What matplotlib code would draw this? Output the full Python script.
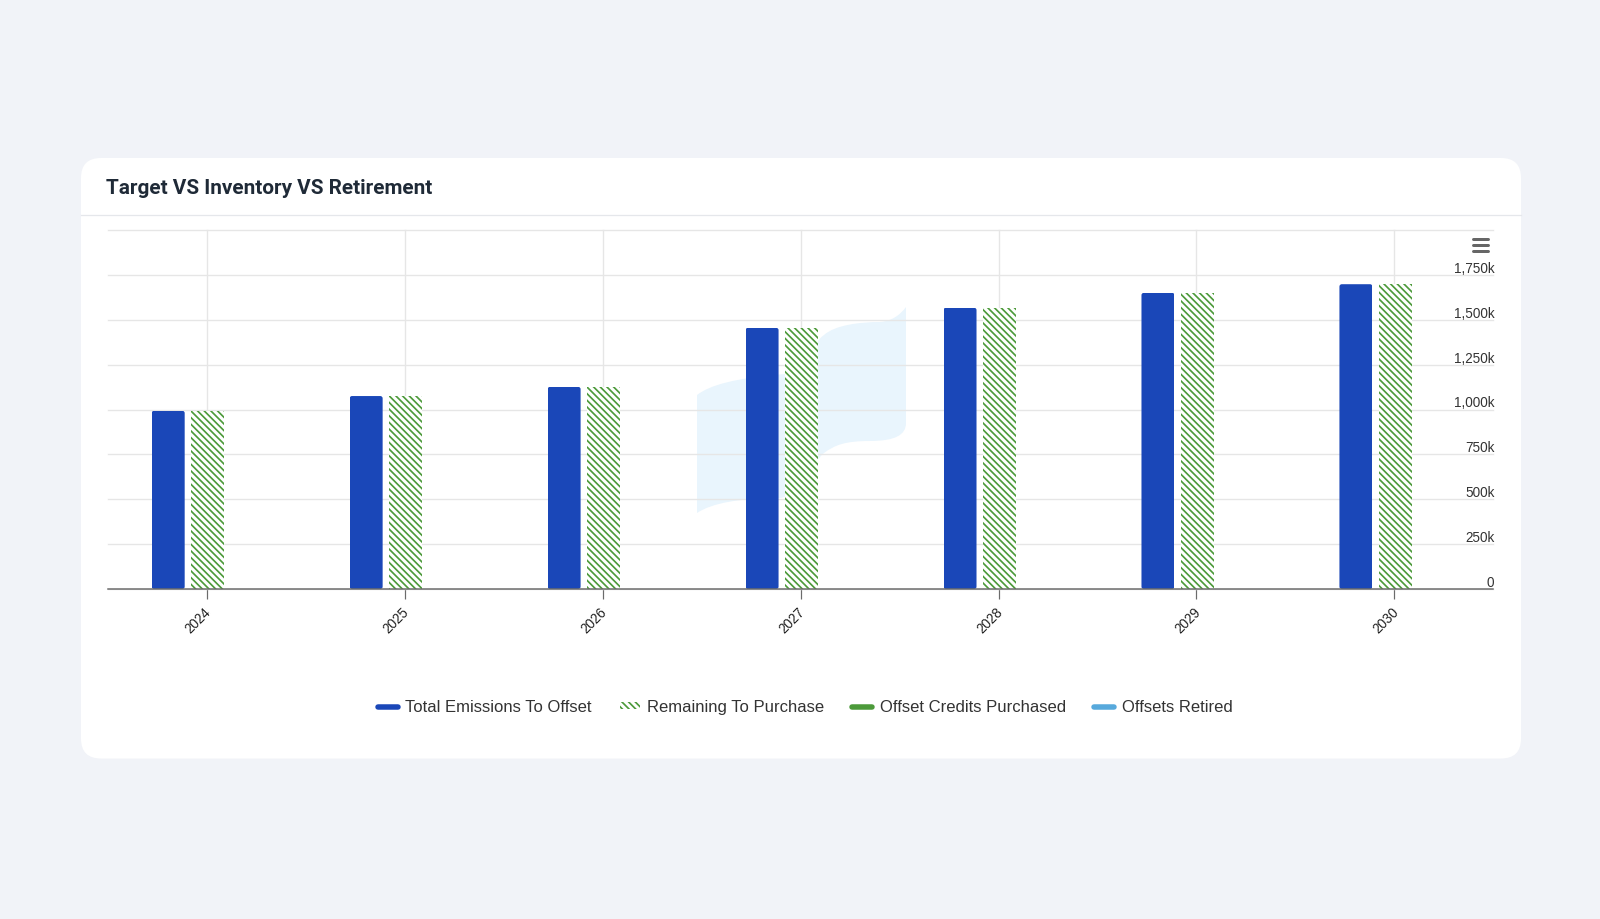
#!/usr/bin/env python3
# coding: utf-8

import matplotlib
matplotlib.use("Agg")
import matplotlib.pyplot as plt
from matplotlib.lines import Line2D
from matplotlib.patches import FancyBboxPatch, PathPatch, Patch
from matplotlib.path import Path
from matplotlib.transforms import Affine2D

# data
years = ["2024", "2025", "2026", "2027", "2028", "2029", "2030"]
total_emissions = [993, 1075, 1126, 1455, 1567, 1650, 1698]
remaining = [993, 1075, 1126, 1455, 1567, 1650, 1698]
purchased = [0, 0, 0, 0, 0, 0, 0]
retired = [0, 0, 0, 0, 0, 0, 0]
y_ticks = [0, 250, 500, 750, 1000, 1250, 1500, 1750, 2000]
y_labels = ["0", "250k", "500k", "750k", "1,000k", "1,250k", "1,500k", "1,750k", ""]

# plot parameters
W, H, DPI = 1600, 920, 200
PT = 72 / DPI  # one pixel in points
BLUE = "#1a47b8"
GREEN = "#4c9a3a"
LIGHT = "#57a9dc"
GRID = "#e6e6e6"
AXIS = "#6b6b6b"
BAR_W = 33 / 198
STEP = 39.7 / 198
SHIFT = 1.2 / 198
HATCH = "\\" * 10

plt.rcParams["font.family"] = ["Liberation Sans", "DejaVu Sans"]
plt.rcParams["hatch.linewidth"] = 1.7 * PT

fig = plt.figure(figsize=(W / DPI, H / DPI), dpi=DPI, facecolor="#f1f3f8")
# everything outside the axes is placed in image pixels, y going down
px = Affine2D().scale(1, -1).translate(0, H)

card = FancyBboxPatch((81, 159), 1440, 600.5, boxstyle="round,pad=0,rounding_size=20",
                      facecolor="white", edgecolor="none", transform=px, zorder=-3)
fig.add_artist(card)
fig.add_artist(Line2D([81, 1521], [215.5, 215.5], color="#e5e7eb", lw=1.3 * PT,
                      transform=px, zorder=-2))
fig.text(106, 188.5, "Target VS Inventory VS Retirement", transform=px, family="Roboto",
         weight="bold", fontsize=20.75 * PT, color="#1f2a37", va="center", ha="left")

# watermark flag behind the plot
verts = [(697, 396), (710, 386), (735, 379), (785, 375),
         (805, 371), (810, 346), (824, 336),
         (835, 326), (860, 323), (880, 323),
         (892, 322), (900, 316), (906, 308),
         (906, 424),
         (906, 436), (895, 442), (870, 442),
         (845, 442), (835, 446), (824, 454),
         (810, 466), (800, 497), (780, 499),
         (740, 499), (712, 504), (697, 514),
         (697, 396)]
codes = [Path.MOVETO] + [Path.CURVE4] * 12 + [Path.LINETO] + [Path.CURVE4] * 12 + [Path.CLOSEPOLY]
fig.add_artist(PathPatch(Path(verts, codes), facecolor="#e9f5fd", edgecolor="none",
                         transform=px, zorder=-1))

ax = fig.add_axes([107.7 / W, 1 - 590 / H, 1385.7 / W, 359 / H])
ax.patch.set_visible(False)
x = list(range(len(years)))

blue_bars = ax.bar([i - STEP + SHIFT for i in x], total_emissions, BAR_W, color=BLUE, zorder=3)
ax.bar([i + SHIFT for i in x], remaining, BAR_W, facecolor="white", edgecolor=GREEN,
       hatch=HATCH, lw=0, zorder=3)
ax.bar([i + STEP + SHIFT for i in x], purchased, BAR_W, color=GREEN, zorder=3)
ax.bar([i + STEP + SHIFT for i in x], retired, BAR_W, bottom=purchased, color=LIGHT, zorder=3)

ax.set_xlim(-0.5, 6.5)
ax.set_ylim(0, 2000)

# small rounded corners on the solid bars
aspect = (2000 / 359) / (7 / 1385.7)
for bar in blue_bars:
    clip = FancyBboxPatch((bar.get_x(), 0), bar.get_width(), bar.get_height(),
                          boxstyle="round,pad=0,rounding_size=0.012",
                          mutation_aspect=aspect, transform=ax.transData)
    bar.set_clip_path(clip)

ax.set_xticks(x, years)
ax.set_yticks(y_ticks, y_labels)
ax.yaxis.tick_right()
ax.grid(True, color=GRID, lw=1.4 * PT, zorder=0, clip_on=False)
ax.set_axisbelow(True)
for side in ["top", "left", "right"]:
    ax.spines[side].set_visible(False)
ax.spines["bottom"].set_color(AXIS)
ax.spines["bottom"].set_linewidth(1.5 * PT)
ax.spines["bottom"].set_zorder(5)

ax.tick_params(axis="y", length=0, pad=0, labelsize=13.5 * PT, labelcolor="#333333")
ax.tick_params(axis="x", length=10 * PT, width=1.2 * PT, color=AXIS, pad=3,
               labelsize=13.5 * PT, labelcolor="#222222")
offset = Affine2D().translate(1, 0)
for lab in ax.get_yticklabels():
    lab.set_ha("right")
    lab.set_va("bottom")
    lab.set_transform(lab.get_transform() + offset)
nudge = Affine2D().translate(-3, 3)
for lab in ax.get_xticklabels():
    lab.set_rotation(45)
    lab.set_ha("right")
    lab.set_va("top")
    lab.set_rotation_mode("anchor")
    lab.set_transform(lab.get_transform() + nudge)

# export menu icon
for yy in [240, 246, 251.5]:
    fig.add_artist(Line2D([1473, 1488], [yy, yy], color="#666666", lw=3 * PT,
                          solid_capstyle="round", transform=px, zorder=6))

handles = [
    Line2D([], [], color=BLUE, lw=5.5 * PT, solid_capstyle="round"),
    Patch(facecolor="white", edgecolor=GREEN, hatch=HATCH, lw=0),
    Line2D([], [], color=GREEN, lw=5.5 * PT, solid_capstyle="round"),
    Line2D([], [], color=LIGHT, lw=5.5 * PT, solid_capstyle="round"),
]
labels = ["Total Emissions To Offset", "Remaining To Purchase",
          "Offset Credits Purchased", "Offsets Retired"]
fig.legend(handles, labels, ncol=4, loc="center", bbox_to_anchor=(805, 708),
           bbox_transform=px, frameon=False, fontsize=16.6 * PT, labelcolor="#333333",
           handlelength=1.2, handleheight=0.3, handletextpad=0.45, columnspacing=1.7,
           borderpad=0, borderaxespad=0)

fig.savefig("out.png", dpi=DPI, facecolor=fig.get_facecolor())
